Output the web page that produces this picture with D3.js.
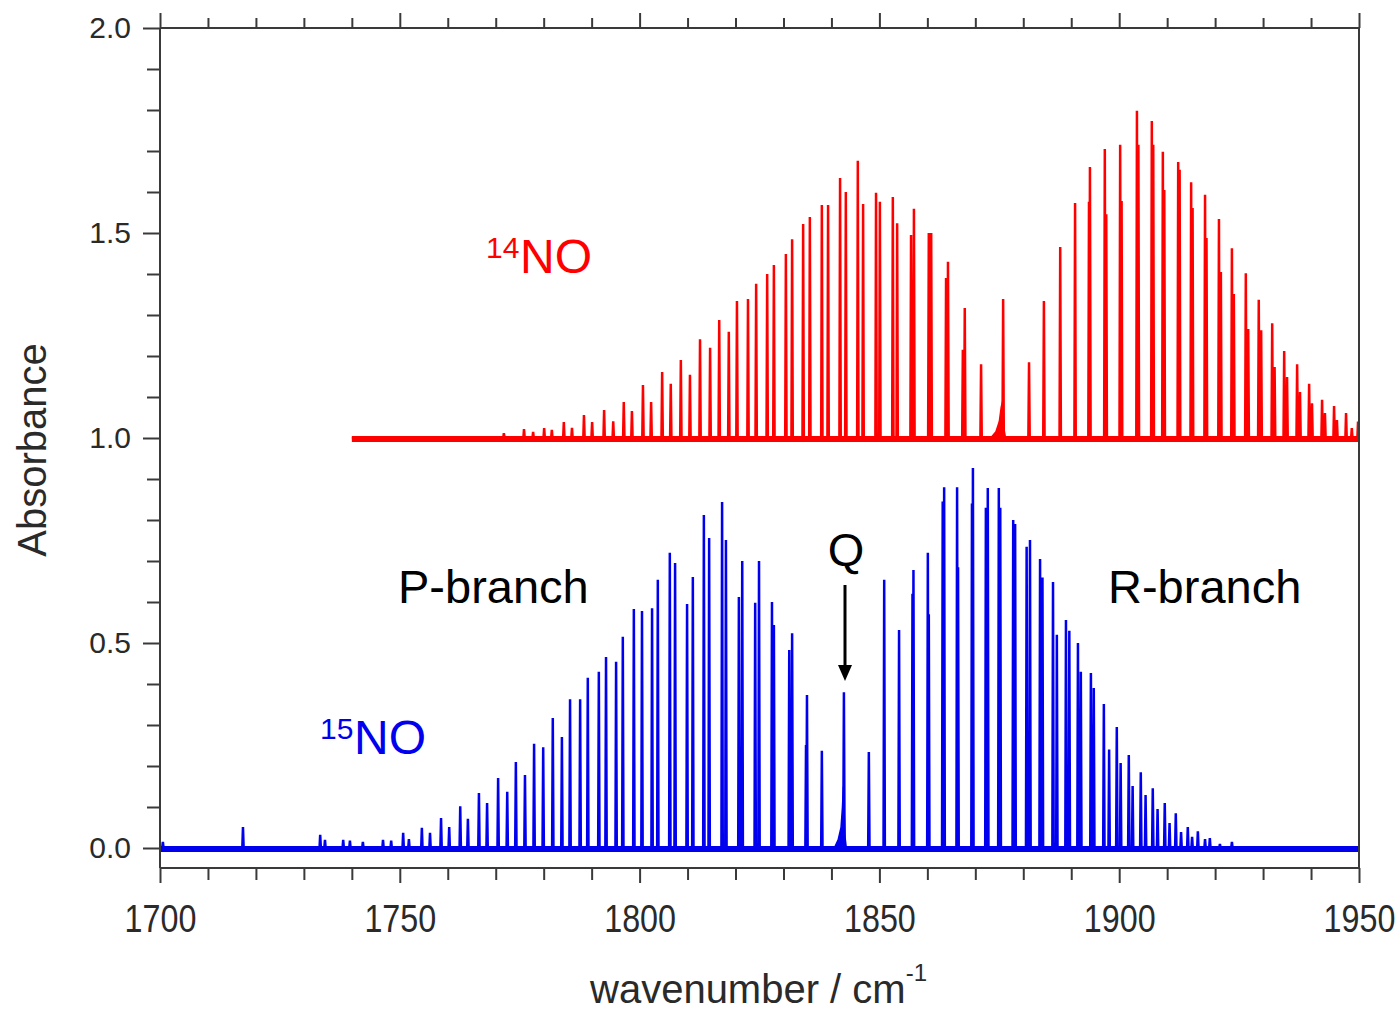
<!DOCTYPE html>
<meta charset="utf-8">
<style>

body {
  margin: 0;
  background: #fff;
}

text {
  font-family: "Liberation Sans", Arial, sans-serif;
}

.axis path.domain {
  display: none;
}

.axis line {
  stroke: #3a3a3a;
  stroke-width: 2px;
}

.spec {
  fill: none;
  stroke-linejoin: miter;
  stroke-width: 2.5px;
}

</style>
<svg></svg>
<script src="https://cdn.jsdelivr.net/npm/d3@7/dist/d3.min.js"></script>
<script>

var width = 1400,
    height = 1014;

// 14NO lines: [wavenumber, absorbance] (baseline at 1.0)
var lines14 = [
  [1771.7, 1.012], [1775.9, 1.022], [1777.8, 1.015], [1780.1, 1.024], [1781.7, 1.02],
  [1784.2, 1.039], [1785.9, 1.025], [1788.4, 1.056], [1790.1, 1.039], [1792.6, 1.068],
  [1794.5, 1.041], [1796.7, 1.088], [1798.4, 1.066], [1800.7, 1.129], [1802.4, 1.088],
  [1804.7, 1.161], [1806.5, 1.132], [1808.6, 1.19], [1810.5, 1.154], [1812.6, 1.241],
  [1814.7, 1.22], [1816.6, 1.288], [1818.6, 1.259], [1820.3, 1.334], [1822.6, 1.339],
  [1824.3, 1.376], [1826.6, 1.4], [1828.0, 1.422], [1830.5, 1.449], [1831.8, 1.485],
  [1834.1, 1.522], [1835.5, 1.539], [1838.0, 1.568], [1839.3, 1.568], [1841.8, 1.634],
  [1843.0, 1.6], [1845.5, 1.676], [1846.6, 1.571], [1849.3, 1.598], [1850.1, 1.576],
  [1852.8, 1.588], [1853.7, 1.524], [1856.6, 1.495], [1857.2, 1.559], [1860.3, 1.5],
  [1860.8, 1.5], [1863.9, 1.39], [1864.3, 1.43], [1867.4, 1.215], [1867.8, 1.317],
  [1871.2, 1.18], [1875.8, 1.339], [1881.2, 1.185], [1884.3, 1.334], [1887.7, 1.466],
  [1890.8, 1.573], [1893.7, 1.576], [1893.9, 1.661], [1897.0, 1.705], [1897.3, 1.546],
  [1900.2, 1.715], [1900.5, 1.578], [1903.7, 1.798], [1904.0, 1.715], [1906.8, 1.773],
  [1907.1, 1.715], [1909.1, 1.698], [1909.4, 1.605], [1912.3, 1.673], [1912.6, 1.654],
  [1915.0, 1.624], [1915.3, 1.561], [1917.9, 1.593], [1918.2, 1.488], [1920.8, 1.534],
  [1921.2, 1.405], [1923.5, 1.463], [1923.9, 1.351], [1926.4, 1.402], [1926.9, 1.266],
  [1929.1, 1.337], [1929.6, 1.263], [1931.9, 1.28], [1932.4, 1.173], [1934.4, 1.212],
  [1935.0, 1.149], [1937.1, 1.18], [1937.7, 1.112], [1939.6, 1.132], [1940.2, 1.085],
  [1942.3, 1.093], [1942.9, 1.061], [1944.8, 1.078], [1945.4, 1.044], [1947.3, 1.061],
  [1948.5, 1.024], [1949.8, 1.04]
];

// 15NO lines: [wavenumber, absorbance] (baseline at 0.0)
var lines15 = [
  [1700.6, 0.015], [1717.3, 0.051], [1733.4, 0.032], [1734.4, 0.02], [1738.2, 0.02],
  [1739.6, 0.018], [1742.3, 0.015], [1746.5, 0.02], [1748.2, 0.018], [1750.7, 0.037],
  [1751.9, 0.022], [1754.6, 0.049], [1756.3, 0.037], [1758.6, 0.073], [1760.3, 0.051],
  [1762.6, 0.102], [1764.2, 0.071], [1766.5, 0.134], [1768.2, 0.11], [1770.5, 0.171],
  [1772.4, 0.137], [1774.2, 0.21], [1776.1, 0.178], [1778.0, 0.254], [1779.9, 0.246],
  [1781.9, 0.317], [1783.8, 0.271], [1785.5, 0.363], [1787.6, 0.363], [1789.2, 0.415],
  [1791.5, 0.43], [1793.0, 0.466], [1795.1, 0.454], [1796.5, 0.515], [1798.8, 0.583],
  [1800.5, 0.578], [1802.6, 0.585], [1803.8, 0.654], [1806.3, 0.72], [1807.4, 0.695],
  [1809.9, 0.595], [1811.1, 0.661], [1813.4, 0.812], [1814.5, 0.756], [1817.2, 0.844],
  [1818.0, 0.751], [1820.7, 0.612], [1821.4, 0.7], [1824.1, 0.598], [1824.9, 0.7],
  [1827.6, 0.6], [1828.0, 0.544], [1831.2, 0.483], [1831.8, 0.524], [1834.7, 0.251],
  [1834.9, 0.373], [1838.0, 0.237], [1842.6, 0.38], [1847.8, 0.234], [1851.0, 0.654],
  [1854.1, 0.532], [1856.9, 0.62], [1857.1, 0.678], [1860.1, 0.72], [1860.3, 0.57],
  [1863.2, 0.845], [1863.5, 0.88], [1866.2, 0.88], [1866.4, 0.685], [1869.3, 0.84],
  [1869.5, 0.927], [1872.2, 0.83], [1872.6, 0.878], [1874.9, 0.878], [1875.2, 0.83],
  [1877.9, 0.8], [1878.3, 0.79], [1880.7, 0.735], [1881.4, 0.751], [1883.5, 0.705],
  [1884.0, 0.66], [1886.2, 0.649], [1887.0, 0.52], [1888.9, 0.556], [1889.6, 0.53],
  [1891.4, 0.5], [1892.0, 0.43], [1894.1, 0.427], [1894.7, 0.39], [1896.8, 0.351],
  [1897.9, 0.24], [1899.5, 0.295], [1900.3, 0.207], [1902.0, 0.227], [1902.8, 0.151],
  [1904.5, 0.185], [1905.5, 0.129], [1907.0, 0.146], [1908.0, 0.095], [1909.5, 0.11],
  [1910.5, 0.061], [1911.8, 0.085], [1912.9, 0.039], [1914.3, 0.051], [1915.2, 0.027],
  [1916.4, 0.041], [1917.9, 0.022], [1918.9, 0.024], [1921.0, 0.01], [1923.5, 0.015]
];

// broad Q-branch humps under the sharp Q lines
var qHump14 = [[1873.2, 1.0], [1874.3, 1.015], [1875.0, 1.04], [1875.4, 1.075], [1875.7, 1.09], [1876.0, 1.02], [1876.3, 1.0]];
var qHump15 = [[1840.6, 0.0], [1841.4, 0.02], [1842.0, 0.05], [1842.3, 0.1], [1842.5, 0.15], [1842.8, 0.03], [1843.1, 0.0]];

var range14 = [1740, 1950],
    range15 = [1700, 1950];

var xMajor = [1700, 1750, 1800, 1850, 1900, 1950],
    yMajor = [0.0, 0.5, 1.0, 1.5, 2.0];

var x = d3.scaleLinear()
    .domain([1700, 1950])
    .range([160, 1359]);

var y = d3.scaleLinear()
    .domain([0, 2])
    .range([848, 28]);

var yBottom = 868;

var svg = d3.select("svg")
    .attr("width", width)
    .attr("height", height);

// spectra
function spikes(list, base, extent) {
  var pts = [[extent[0], base]];
  list.slice().sort(function(a, b) { return a[0] - b[0]; }).forEach(function(d) {
    pts.push([d[0] - 0.14, base], [d[0], d[1]], [d[0] + 0.14, base]);
  });
  pts.push([extent[1], base]);
  return pts;
}

var line = d3.line()
    .x(function(d) { return x(d[0]); })
    .y(function(d) { return y(d[1]); });

var area = d3.area()
    .x(function(d) { return x(d[0]); })
    .y0(function(d) { return y(d[1] < 0.5 ? 0 : 1); })
    .y1(function(d) { return y(d[1]); });

function drawSpectrum(list, hump, base, extent, color) {
  var g = svg.append("g");
  g.append("line")
      .attr("x1", x(extent[0]))
      .attr("x2", x(extent[1]))
      .attr("y1", y(base) + 1)
      .attr("y2", y(base) + 1)
      .attr("stroke", color)
      .attr("stroke-width", 6);
  g.append("path")
      .datum(hump)
      .attr("fill", color)
      .attr("stroke", color)
      .attr("stroke-width", 1.5)
      .attr("d", area);
  g.append("path")
      .datum(spikes(list, base, extent))
      .attr("class", "spec")
      .attr("stroke", color)
      .attr("d", line);
}

drawSpectrum(lines14, qHump14, 1.0, range14, "#ff0000");
drawSpectrum(lines15, qHump15, 0.0, range15, "#0000ee");

// frame
var frame = svg.append("g")
    .attr("fill", "none")
    .attr("stroke", "#3a3a3a")
    .attr("stroke-width", 2);
frame.append("line").attr("x1", 160).attr("x2", 1359).attr("y1", 28).attr("y2", 28);
frame.append("line").attr("x1", 160).attr("x2", 1359).attr("y1", yBottom).attr("y2", yBottom);
frame.append("line").attr("x1", 160).attr("x2", 160).attr("y1", 28).attr("y2", yBottom);
frame.append("line").attr("x1", 1359).attr("x2", 1359).attr("y1", 28).attr("y2", yBottom);

// axes
var xMinor = d3.range(1700, 1951, 10).filter(function(d) { return d % 50; }),
    yMinor = d3.range(0, 21).map(function(d) { return d / 10; }).filter(function(d) { return Math.round(d * 10) % 5; });

svg.append("g")
    .attr("class", "axis")
    .attr("transform", "translate(0," + yBottom + ")")
    .call(d3.axisBottom(x).tickValues(xMinor).tickSize(12).tickFormat(""));

var xAxis = svg.append("g")
    .attr("class", "axis")
    .attr("transform", "translate(0," + yBottom + ")")
    .call(d3.axisBottom(x).tickValues(xMajor).tickSize(15).tickPadding(22).tickFormat(d3.format("d")));

xAxis.selectAll("text")
    .attr("font-size", 38)
    .attr("fill", "#2a2a2a")
    .attr("transform", "scale(0.85,1)");

svg.append("g")
    .attr("class", "axis")
    .attr("transform", "translate(0,28)")
    .call(d3.axisTop(x).tickValues(xMinor).tickSize(10).tickFormat(""));

svg.append("g")
    .attr("class", "axis")
    .attr("transform", "translate(0,28)")
    .call(d3.axisTop(x).tickValues(xMajor).tickSize(15).tickFormat(""));

svg.append("g")
    .attr("class", "axis")
    .attr("transform", "translate(160,0)")
    .call(d3.axisLeft(y).tickValues(yMinor).tickSize(13).tickFormat(""));

var yAxis = svg.append("g")
    .attr("class", "axis")
    .attr("transform", "translate(160,0)")
    .call(d3.axisLeft(y).tickValues(yMajor).tickSize(17).tickPadding(12).tickFormat(d3.format(".1f")));

yAxis.selectAll("text")
    .attr("font-family", "'DejaVu Sans', sans-serif")
    .attr("font-size", 30)
    .attr("fill", "#2a2a2a");

// axis titles
svg.append("text")
    .attr("transform", "translate(46,450) rotate(-90)")
    .attr("text-anchor", "middle")
    .attr("font-size", 40)
    .attr("fill", "#2a2a2a")
    .text("Absorbance");

var xt = svg.append("text")
    .attr("x", 590)
    .attr("y", 1003)
    .attr("font-size", 40)
    .attr("fill", "#2a2a2a");
xt.append("tspan").text("wavenumber / cm");
xt.append("tspan").attr("font-size", 24).attr("dy", -22).text("-1");

// annotations
function isotope(sx, sy, mass, color) {
  svg.append("text")
      .attr("x", sx).attr("y", sy - 15)
      .attr("font-size", 30)
      .attr("fill", color)
      .text(mass);
  svg.append("text")
      .attr("x", sx + 34).attr("y", sy)
      .attr("font-size", 48)
      .attr("fill", color)
      .text("NO");
}

isotope(486, 273, "14", "#ff0000");
isotope(320, 754, "15", "#0000ee");

svg.append("text")
    .attr("x", 398).attr("y", 603)
    .attr("font-size", 47)
    .attr("fill", "#000")
    .text("P-branch");

svg.append("text")
    .attr("x", 1108).attr("y", 603)
    .attr("font-size", 47)
    .attr("fill", "#000")
    .text("R-branch");

svg.append("text")
    .attr("x", 846).attr("y", 566)
    .attr("text-anchor", "middle")
    .attr("font-size", 47)
    .attr("fill", "#000")
    .text("Q");

svg.append("line")
    .attr("x1", 845).attr("x2", 845)
    .attr("y1", 585).attr("y2", 668)
    .attr("stroke", "#000")
    .attr("stroke-width", 3);

svg.append("path")
    .attr("d", "M838,665L852,665L845,681Z")
    .attr("fill", "#000");

</script>
